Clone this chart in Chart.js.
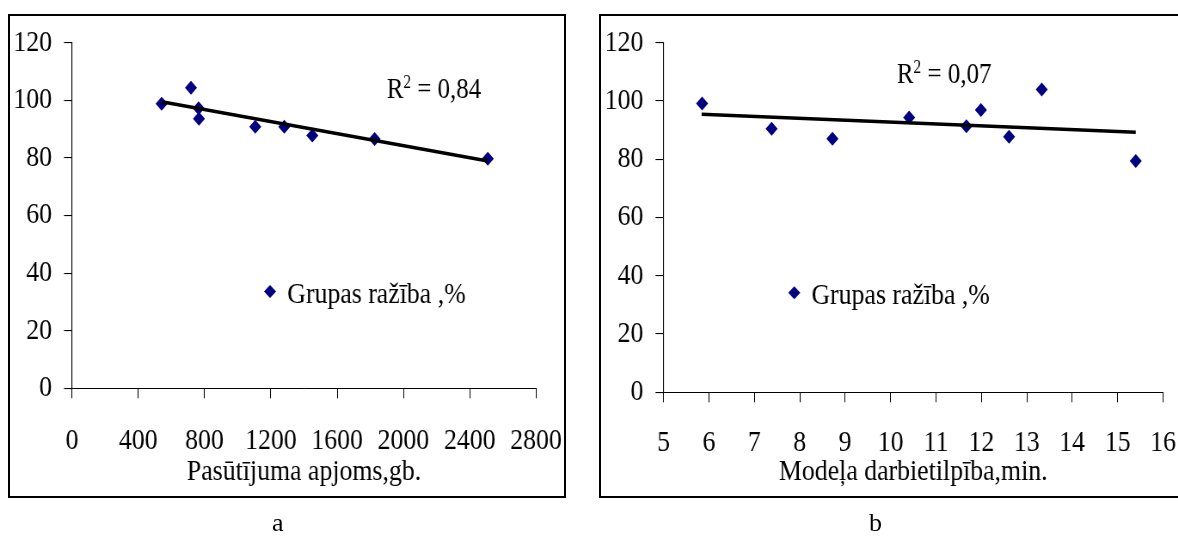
<!DOCTYPE html>
<html>
<head>
<meta charset="utf-8">
<script src="https://cdn.jsdelivr.net/npm/chart.js@4.4.1/dist/chart.umd.min.js"></script>
<style>
body { margin:0; background:#fff; width:1178px; height:536px; overflow:hidden; position:relative; font-family:"Liberation Serif","Times New Roman",serif; }
canvas { position:absolute; top:0; transform:scaleX(0.86); transform-origin:0 0; }
.frame { position:absolute; border:2px solid #000; box-sizing:border-box; pointer-events:none; }
.cap { position:absolute; font-size:26px; line-height:26px; color:#000; }
</style>
</head>
<body>
<canvas id="chart-a" width="685" height="536" style="left:0"></canvas>
<canvas id="chart-b" width="685" height="536" style="left:589px"></canvas>
<div class="frame" style="left:8px;top:14px;width:558px;height:484px"></div>
<div class="frame" style="left:599px;top:14px;width:620px;height:484px"></div>
<div class="cap" style="left:272px;top:510px">a</div>
<div class="cap" style="left:869px;top:510px">b</div>
<script>
// chart a: order volume vs group yield
var orderVolume = [541, 718, 764, 766, 1106, 1281, 1450, 1826, 2509];
var yieldA = [98.8, 104.4, 97.2, 93.6, 90.8, 90.8, 87.8, 86.6, 79.7];
var trendAx = [541, 2509];
var trendAy = [99.5, 78.9];

// chart b: model labour intensity vs group yield
var modelTime = [5.85, 7.38, 8.72, 10.41, 11.67, 11.99, 12.61, 13.33, 15.40];
var yieldB = [99.1, 90.5, 87.0, 94.3, 91.3, 96.9, 87.7, 103.9, 79.4];
var trendBx = [5.84, 15.40];
var trendBy = [95.4, 89.3];

var seriesLabel = 'Grupas ražība ,%';
var xTitles = ['Pasūtījuma apjoms,gb.', 'Modeļa darbietilpība,min.'];
var r2Values = ['0,84', '0,07'];
var xRangeA = [0, 2800, 400];
var xRangeB = [5, 16, 1];
var yRange = [0, 120, 20];

var navy = '#000080';
var serif = "'Liberation Serif', 'Times New Roman', serif";
var squeeze = 0.86;   // the original text is narrow, canvases are squeezed by css

Chart.defaults.font.family = serif;
Chart.defaults.font.size = 30;
Chart.defaults.color = '#000';

function toPoints(xs, ys) {
    return xs.map((v, i) => ({ x: v, y: ys[i] }));
}

// R^2 note and the little legend, both sit inside the plot
var noteLayer = {
    id: 'noteLayer',
    afterDatasetsDraw(chart, args, opts) {
        const ctx = chart.ctx;
        const x = chart.scales.x, y = chart.scales.y;
        ctx.save();
        ctx.fillStyle = '#000';
        ctx.textBaseline = 'alphabetic';
        ctx.textAlign = 'left';

        let px = x.getPixelForValue(opts.r2At[0]);
        let py = y.getPixelForValue(opts.r2At[1]);
        ctx.font = '29px ' + serif;
        ctx.fillText('R', px, py);
        px += ctx.measureText('R').width;
        ctx.font = '18px ' + serif;
        ctx.fillText('2', px, py - 10);
        px += ctx.measureText('2').width;
        ctx.font = '29px ' + serif;
        ctx.fillText(' = ' + opts.r2, px, py);

        const lx = x.getPixelForValue(opts.legendAt[0]);
        const ly = y.getPixelForValue(opts.legendAt[1]);
        ctx.fillStyle = navy;
        ctx.beginPath();
        ctx.moveTo(lx - 7, ly);
        ctx.lineTo(lx, ly - 6.5);
        ctx.lineTo(lx + 7, ly);
        ctx.lineTo(lx, ly + 6.5);
        ctx.closePath();
        ctx.fill();
        ctx.fillStyle = '#000';
        ctx.font = '30px ' + serif;
        ctx.fillText(chart.data.datasets[1].label, lx + 20, ly + 11.5);
        ctx.restore();
    }
};

function makeChart(id, xs, ys, tx, ty, xRange, title, r2, r2At, legendAt, area) {
    return new Chart(document.getElementById(id), {
        type: 'scatter',
        data: {
            datasets: [{
                label: 'trend',
                data: toPoints(tx, ty),
                showLine: true,
                borderColor: '#000',
                borderWidth: 3.5,
                pointRadius: 0,
                order: 0
            }, {
                label: seriesLabel,
                data: toPoints(xs, ys),
                pointStyle: 'rectRot',
                pointRadius: 7,
                pointBorderWidth: 0,
                backgroundColor: navy,
                borderColor: navy,
                order: 1
            }]
        },
        options: {
            responsive: false,
            animation: false,
            events: [],
            layout: { padding: { left: 0, top: area.top, right: 685 - area.right / squeeze, bottom: 0 } },
            plugins: {
                legend: { display: false },
                tooltip: { enabled: false },
                noteLayer: { r2: r2, r2At: r2At, legendAt: legendAt }
            },
            scales: {
                x: {
                    type: 'linear',
                    min: xRange[0],
                    max: xRange[1],
                    ticks: {
                        stepSize: xRange[2],
                        padding: area.xPad,
                        maxRotation: 0,
                        autoSkip: false,
                        callback: v => String(v)
                    },
                    grid: { drawOnChartArea: false, drawTicks: true, tickLength: 10, color: '#000', lineWidth: 1 },
                    border: { display: true, color: '#000', width: 1 },
                    title: { display: true, text: title, padding: { top: 0, bottom: 46 } },
                    afterFit: s => {
                        s.height = 536 - area.bottom;
                        s.paddingLeft = 0;
                        s.paddingRight = 0;
                    }
                },
                y: {
                    min: yRange[0],
                    max: yRange[1],
                    ticks: { stepSize: yRange[2], padding: 14, callback: v => String(v) },
                    grid: { drawOnChartArea: false, drawTicks: true, tickLength: 9.3, color: '#000', lineWidth: 1.1 },
                    border: { display: true, color: '#000', width: 1.1 },
                    afterFit: s => {
                        s.width = area.left / squeeze;
                        s.paddingTop = 0;
                        s.paddingBottom = 0;
                    }
                }
            }
        },
        plugins: [noteLayer]
    });
}

makeChart('chart-a', orderVolume, yieldA, trendAx, trendAy, xRangeA, xTitles[0], r2Values[0],
    [1899, 100.9], [1195, 33.6], { left: 72, top: 42.7, right: 536, bottom: 388.3, xPad: 24.7 });
makeChart('chart-b', modelTime, yieldB, trendBx, trendBy, xRangeB, xTitles[1], r2Values[1],
    [10.14, 106.1], [7.88, 34.2], { left: 74.5, top: 42.7, right: 574, bottom: 392.3, xPad: 22.4 });
</script>
</body>
</html>
